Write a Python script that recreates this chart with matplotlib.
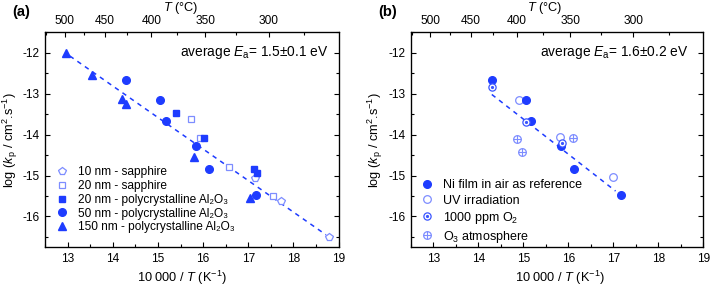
import numpy as np
import matplotlib
matplotlib.use("Agg")
import matplotlib.pyplot as plt
from matplotlib.lines import Line2D
from matplotlib.legend_handler import HandlerTuple

plt.rcParams['font.family'] = ['Liberation Sans', 'DejaVu Sans']
plt.rcParams['mathtext.fontset'] = 'custom'
plt.rcParams['mathtext.rm'] = 'Liberation Sans'
plt.rcParams['mathtext.it'] = 'Liberation Sans:italic'
FS = 8.6

# ---------------- data: panel (a) ----------------
pent_x = [17.15, 17.73, 18.79]
pent_y = [-15.06, -15.62, -16.50]
osq_x = [15.74, 15.92, 16.58, 17.55]
osq_y = [-13.62, -14.08, -14.80, -15.51]
fsq_x = [15.41, 16.01, 17.12, 17.20]
fsq_y = [-13.48, -14.09, -14.83, -14.94]
circ_x = [14.30, 15.05, 15.17, 15.84, 16.13, 17.18]
circ_y = [-12.67, -13.15, -13.66, -14.27, -14.84, -15.48]
tri_x = [12.96, 13.55, 14.21, 14.29, 15.80, 17.04]
tri_y = [-12.00, -12.54, -13.14, -13.25, -14.56, -15.56]
fit_a_x = [13.05, 18.72]
fit_a_y = [-12.08, -16.45]

# ---------------- data: panel (b) ----------------
ni_x = [14.30, 15.05, 15.16, 15.84, 16.13, 17.18]
ni_y = [-12.67, -13.15, -13.66, -14.28, -14.84, -15.47]
uv_x = [14.91, 15.81, 17.00]
uv_y = [-13.15, -14.07, -15.03]
o2_x = [14.30, 15.05, 15.87]
o2_y = [-12.83, -13.69, -14.20]
o3_x = [14.86, 14.96, 16.10]
o3_y = [-14.10, -14.43, -14.09]
fit_b_x = [14.30, 17.05]
fit_b_y = [-13.02, -15.38]

temps_major = [500, 450, 400, 350, 300]
temps_minor = [525, 475, 425, 375, 325, 275]

DARK = '#1e3cff'
LIGHT = '#7d8dff'
MID = '#3a55ff'

fig = plt.figure(figsize=(7.11, 2.87), dpi=100)
axa = fig.add_axes([0.0633, 0.139, 0.4130, 0.7485])
axb = fig.add_axes([0.5778, 0.139, 0.4114, 0.7485])


def style(ax, label, Ea, ex, topx, botx):
    ax.set_xlim(12.5, 19)
    ax.set_ylim(-16.75, -11.5)
    ax.set_xticks(range(13, 20))
    ax.set_xticks(np.arange(12.5, 19.01, 0.5), minor=True)
    ax.set_yticks([-16, -15, -14, -13, -12])
    ax.set_yticks(np.arange(-16.5, -11.4, 0.5), minor=True)
    ax.tick_params(which='both', direction='in', right=True, labelsize=FS,
                   width=0.8, pad=4)
    ax.tick_params(which='major', length=3.5)
    ax.tick_params(which='minor', length=2)
    ax.set_yticklabels(['-16', '-15', '-14', '-13', '-12'])
    for s in ax.spines.values():
        s.set_linewidth(0.9)
    ax.set_xlabel(r'10 000 / $\mathit{T}$ (K$^{-1}$)', fontsize=FS + 0.6, labelpad=3,
                  x=botx, ha='center')
    ax.set_ylabel(r'log ($\mathit{k}_\mathrm{p}$ / cm$^2$.s$^{-1}$)', fontsize=FS + 0.6,
                  labelpad=2)
    top = ax.twiny()
    top.set_xlim(ax.get_xlim())
    top.set_xticks([10000 / (t + 273.15) for t in temps_major])
    top.set_xticklabels([str(t) for t in temps_major])
    top.set_xticks([10000 / (t + 273.15) for t in temps_minor
                    if 12.5 <= 10000 / (t + 273.15) <= 19], minor=True)
    top.tick_params(which='both', direction='in', labelsize=FS, width=0.8, pad=4)
    top.tick_params(which='major', length=3.5)
    top.tick_params(which='minor', length=2)
    top.set_xlabel(r'$\mathit{T}$ (°C)', fontsize=FS + 0.6, labelpad=2.5,
                   x=topx, ha='center')
    ax.text(ex, -12.0, r'average $\mathit{E}_\mathrm{a}$= ' + Ea + ' eV',
            ha='right', va='center', fontsize=FS + 1.3)
    ax.text(-0.11, 1.06, label, transform=ax.transAxes, fontsize=FS + 2,
            fontweight='bold', ha='left', va='bottom')


style(axa, '(a)', '1.5±0.1', 18.78, 0.463, 0.465)
style(axb, '(b)', '1.6±0.2', 18.68, 0.459, 0.51)

# panel (a)
axa.plot(fit_a_x, fit_a_y, ls=(0, (3, 3)), color=DARK, lw=1.1, zorder=1)
axa.plot(pent_x, pent_y, ls='none', marker='p', ms=5.8, mfc='white', mec=LIGHT, mew=0.9,
         label='10 nm - sapphire')
axa.plot(osq_x, osq_y, ls='none', marker='s', ms=4.8, mfc='white', mec=LIGHT, mew=0.9,
         label='20 nm - sapphire')
axa.plot(fsq_x, fsq_y, ls='none', marker='s', ms=4.8, color=DARK,
         label='20 nm - polycrystalline Al₂O₃')
axa.plot(circ_x, circ_y, ls='none', marker='o', ms=5.5, color=DARK,
         label='50 nm - polycrystalline Al₂O₃')
axa.plot(tri_x, tri_y, ls='none', marker='^', ms=5.7, color=DARK,
         label='150 nm - polycrystalline Al₂O₃')
axa.legend(loc='lower left', bbox_to_anchor=(0.005, 0.025), frameon=False, fontsize=FS,
           handletextpad=0.7, labelspacing=0.15, handlelength=1.2, borderaxespad=0.3)

# panel (b)
axb.plot(fit_b_x, fit_b_y, ls=(0, (3, 3)), color=DARK, lw=1.1, zorder=1)
axb.plot(ni_x, ni_y, ls='none', marker='o', ms=5.5, color=DARK, zorder=3)
axb.plot(uv_x, uv_y, ls='none', marker='o', ms=5.5, mfc='white', mec=LIGHT, mew=0.9, zorder=2)
axb.plot(o2_x, o2_y, ls='none', marker='o', ms=5.2, mfc='white', mec=MID, mew=0.9, zorder=4)
axb.plot(o2_x, o2_y, ls='none', marker='o', ms=1.3, color=MID, zorder=5)
axb.plot(o3_x, o3_y, ls='none', marker='o', ms=5.5, mfc='white', mec=LIGHT, mew=0.9, zorder=2)
axb.plot(o3_x, o3_y, ls='none', marker='+', ms=5.5, color=LIGHT, mew=0.8, zorder=3)

h_ni = Line2D([], [], ls='none', marker='o', ms=5.5, color=DARK)
h_uv = Line2D([], [], ls='none', marker='o', ms=5.5, mfc='white', mec=LIGHT, mew=0.9)
h_o2 = (Line2D([], [], ls='none', marker='o', ms=5.2, mfc='white', mec=MID, mew=0.9),
        Line2D([], [], ls='none', marker='o', ms=1.3, color=MID))
h_o3 = (Line2D([], [], ls='none', marker='o', ms=5.5, mfc='white', mec=LIGHT, mew=0.9),
        Line2D([], [], ls='none', marker='+', ms=5.5, color=LIGHT, mew=0.8))
axb.legend([h_ni, h_uv, h_o2, h_o3],
           ['Ni film in air as reference', 'UV irradiation', r'1000 ppm O$_2$',
            r'O$_3$ atmosphere'],
           handler_map={tuple: HandlerTuple(ndivide=1, pad=0)},
           loc='lower left', bbox_to_anchor=(0.0, -0.03), frameon=False, fontsize=FS + 0.4,
           handletextpad=0.7, labelspacing=0.25, handlelength=1.2, borderaxespad=0.3)

fig.savefig('out.png', dpi=100)
